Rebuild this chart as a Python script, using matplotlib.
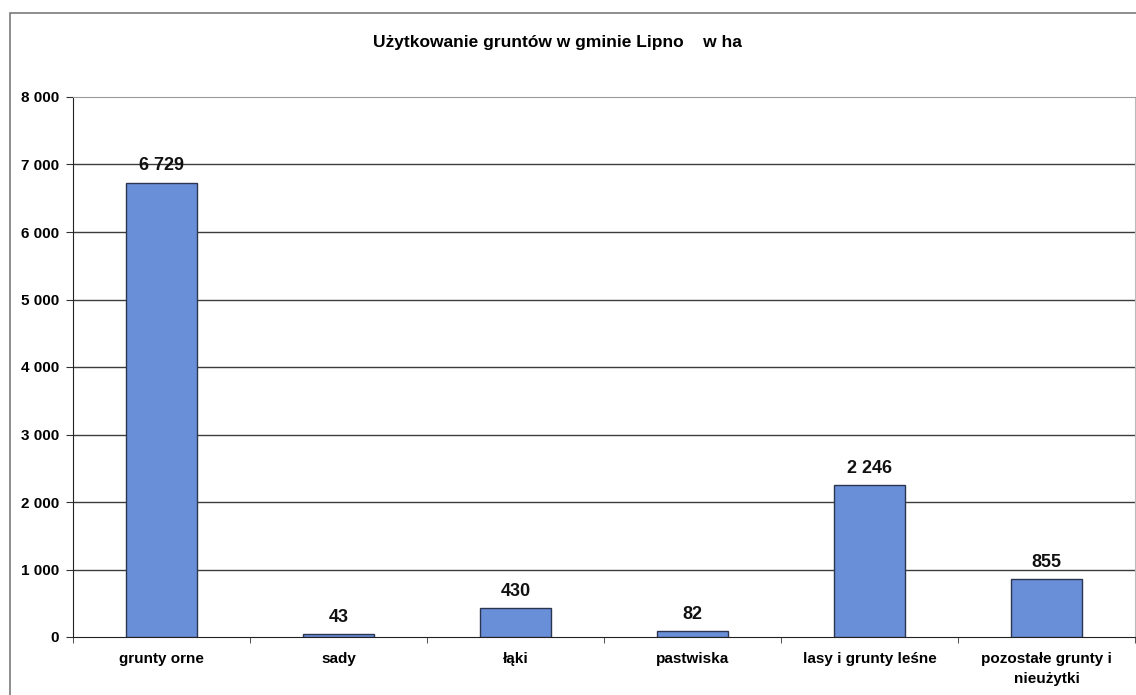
import matplotlib.pyplot as plt
import numpy as np
from matplotlib.patches import Rectangle
from matplotlib.ticker import FuncFormatter

plt.rcParams['font.family'] = ['Liberation Sans', 'DejaVu Sans']

categories = ['grunty orne', 'sady', 'łąki', 'pastwiska',
              'lasy i grunty leśne', 'pozostałe grunty i\nnieużytki']
values = [6729, 43, 430, 82, 2246, 855]
y_ticks = [0, 1000, 2000, 3000, 4000, 5000, 6000, 7000, 8000]
title = 'Użytkowanie gruntów w gminie Lipno    w ha'


def fmt(v, pos=None):
    return '{:,}'.format(int(v)).replace(',', ' ')


fig = plt.figure(figsize=(11.36, 6.95), dpi=100)
# outer chart frame
fig.patches.append(Rectangle((10 / 1136, -0.1), 1.2, 1.1 - 13 / 695,
                             transform=fig.transFigure, fill=False,
                             edgecolor='#7a7a7a', linewidth=1.2))
ax = fig.add_axes([73 / 1136, 58 / 695, 1062 / 1136, 540 / 695])

x = np.arange(len(categories))
bars = ax.bar(x, values, width=0.4, color='#6a8fd9',
              edgecolor='#2b3550', linewidth=1.0, zorder=3)

for b, v in zip(bars, values):
    ax.annotate(fmt(v), (b.get_x() + b.get_width() / 2, v),
                xytext=(0, 6), textcoords='offset points',
                ha='center', va='bottom', fontsize=13,
                fontweight='bold', color='#111111')

ax.set_xlim(-0.5, len(categories) - 0.5)
ax.set_ylim(0, 8000)
ax.set_yticks(y_ticks)
ax.yaxis.set_major_formatter(FuncFormatter(fmt))
for yv in y_ticks[1:-1]:
    ax.axhline(yv, color='#3c3c3c', linewidth=1.0, zorder=1)

ax.set_xticks(x)
ax.set_xticklabels(categories, fontsize=11, fontweight='bold',
                   linespacing=1.5)
ax.set_xticks(np.arange(len(categories) + 1) - 0.5, minor=True)
ax.tick_params(axis='x', which='major', length=0, pad=11)
ax.tick_params(axis='x', which='minor', length=4, color='#333333')
ax.tick_params(axis='y', length=5, labelsize=11, pad=5, color='#333333')
for lbl in ax.get_yticklabels():
    lbl.set_fontweight('bold')

ax.spines['left'].set_color('#222222')
ax.spines['bottom'].set_color('#222222')
ax.spines['top'].set_color('#9a9a9a')
ax.spines['right'].set_color('#bbbbbb')

fig.text(0.491, 1 - 43 / 695, title, ha='center', va='center',
         fontsize=12.5, fontweight='bold')

fig.savefig('out.png', dpi=100)
